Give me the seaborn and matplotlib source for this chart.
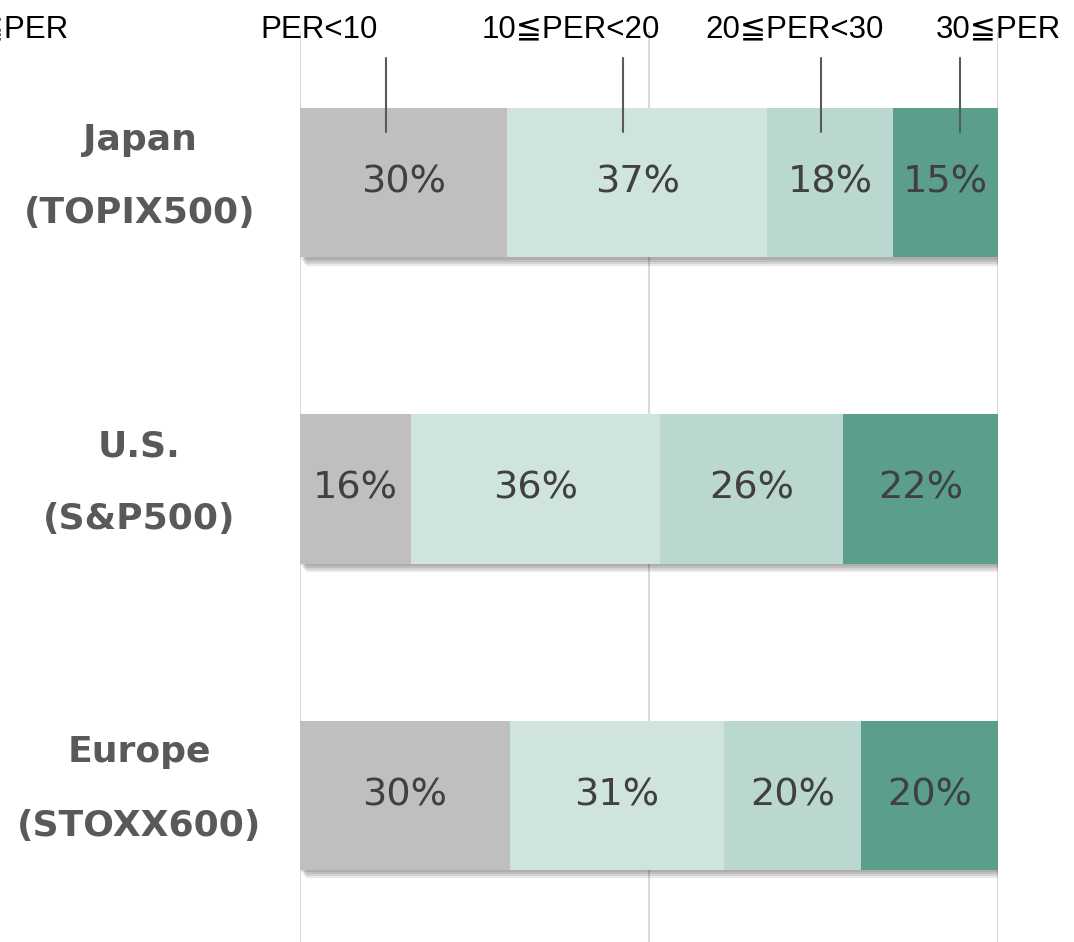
import matplotlib
matplotlib.use("Agg")
import matplotlib.pyplot as plt
import matplotlib.patheffects as pe
import seaborn as sns
import pandas as pd
import numpy as np

# data (share of companies by PER band, %)
regions = ["Japan\n(TOPIX500)", "U.S.\n(S&P500)", "Europe\n(STOXX600)"]
bands = ["PER<10", "10≦PER<20", "20≦PER<30", "30≦PER"]
japan = [29.7, 37.2, 18.1, 15.0]
us = [15.9, 35.7, 26.2, 22.2]
europe = [30.1, 30.6, 19.7, 19.6]
colors = ["#BFBFBF", "#D0E4DF", "#BAD7D0", "#5A9E8B"]

# where the band captions sit (x in %), and where their leader lines hit the Japan bar
label_x = [2.8, 38.8, 70.9, 100.1]
leader_x = [12.3, 46.3, 74.6, 94.6]

sns.set_style("white")
plt.rcParams["font.family"] = ["DejaVu Sans", "Noto Sans CJK JP"]

vals = np.array([japan, us, europe])
cum = vals.cumsum(axis=1)

fig = plt.figure(figsize=(10.74, 9.42), dpi=100)
ax = fig.add_axes([300 / 1074, 0, 698 / 1074, 910 / 942])

for x in [0, 50, 100]:
    ax.axvline(x, color="#D9D9D9", lw=1.5, zorder=0)

# draw longest cumulative bar first so the shorter ones sit on top
for i in range(len(bands) - 1, -1, -1):
    df = pd.DataFrame({"region": regions, "value": cum[:, i]})
    sns.barplot(data=df, x="value", y="region", orient="h", color=colors[i],
                saturation=1, width=0.487, errorbar=None, linewidth=0,
                edgecolor="none", ax=ax, zorder=2)

# soft-ish shadow under the full bars (a few faint layers)
shadow = [pe.SimplePatchShadow(offset=(o, -o * 1.6), shadow_rgbFace="k", alpha=0.09)
          for o in (1, 2, 3, 4)]
for p in ax.patches[:len(regions)]:
    p.set_path_effects(shadow + [pe.Normal()])

ax.set_xlim(0, 100)
ax.set_ylim(2.480, -0.493)
ax.set_xlabel("")
ax.set_ylabel("")
ax.set_xticks([])
ax.set_yticks([])
sns.despine(ax=ax, left=True, bottom=True)

# percentages inside the segments
for r in range(len(regions)):
    left = 0
    for i in range(len(bands)):
        v = vals[r, i]
        ax.text(left + v / 2, r, f"{v:.0f}%", ha="center", va="center",
                fontsize=27.5, color="#404040", zorder=5)
        left += v

# region names on the left
for r, name in enumerate(regions):
    ax.text(-23.0, r - 0.02, name, ha="center", va="center", fontsize=26,
            fontweight="bold", color="#595959", linespacing=2.45, clip_on=False)

# band captions and leader lines
top_font = ["Liberation Sans", "DejaVu Sans", "Noto Sans CJK JP"]
for lx, name in zip(label_x, bands):
    ax.text(lx, -0.5, name, ha="center", va="center", fontsize=22.5,
            family=top_font, color="black", clip_on=False)
# caption cut off by the left edge
ax.text(-42.1, -0.5, bands[3], ha="center", va="center", fontsize=22.5,
        family=top_font, color="black", clip_on=False)

for lx in leader_x:
    ax.plot([lx, lx], [-0.408, -0.167], color="#595959", lw=1.5, zorder=6, clip_on=False)

fig.savefig("out.png", dpi=100)
